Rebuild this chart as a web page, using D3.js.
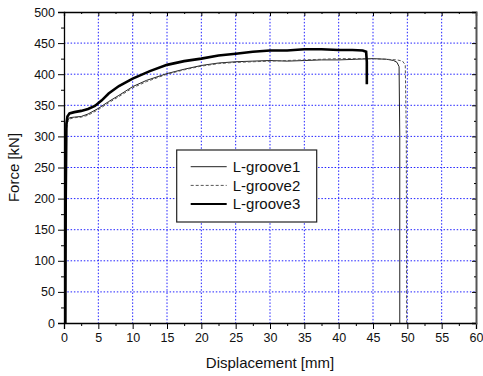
<!DOCTYPE html>
<html>
<head>
<meta charset="utf-8">
<script src="https://cdn.jsdelivr.net/npm/d3@7"></script>
<style>
  body { margin: 0; background: #fff; }
  text { font-family: "Liberation Sans", Arial, sans-serif; fill: #111; }
</style>
</head>
<body>
<div id="chart"></div>
<script>
// series: displacement [mm] and force [kN]
const disp1 = [0.15, 0.2, 0.3, 0.5, 0.8, 1.5, 2.5, 3.5, 5, 6.5, 8, 10, 12, 15, 17.5, 20, 22.5, 25, 27.5, 30, 32.5, 35, 37.5, 40, 42.5, 45, 47, 48, 48.5, 48.8, 48.9, 48.9];
const force1 = [0, 200, 310, 325, 330, 331, 332, 336, 345, 356, 366, 380, 390, 401, 408, 414, 418, 420, 421, 422, 421, 422, 423, 423, 424, 425, 424, 422, 419, 412, 300, 0];

const disp2 = [0.2, 0.25, 0.35, 0.5, 0.8, 1.5, 2.5, 3.5, 5, 6.5, 8, 10, 12, 15, 17.5, 20, 22.5, 25, 27.5, 30, 32.5, 35, 37.5, 40, 42.5, 45, 47, 48.5, 49.3, 49.7, 49.85, 49.9];
const force2 = [0, 200, 310, 322, 328, 330, 331, 334, 343, 354, 364, 378, 388, 400, 407, 413, 417, 419, 420, 421, 422, 423, 424, 425, 425, 425, 424, 423, 421, 415, 300, 0];

const disp3 = [0.2, 0.25, 0.35, 0.5, 0.8, 1.5, 2.5, 3.5, 4.5, 5.5, 6.5, 8, 10, 12.5, 15, 17.5, 20, 22.5, 25, 27.5, 30, 32.5, 35, 37.5, 40, 42, 43.5, 44, 44.1, 44.1];
const force3 = [0, 200, 320, 332, 337, 339, 341, 344, 349, 358, 369, 381, 393, 405, 415, 421, 425, 430, 433, 436, 438, 438, 440, 440, 439, 439, 438, 436, 420, 384];

const seriesNames = ["L-groove1", "L-groove2", "L-groove3"];
const xTicks = [0, 5, 10, 15, 20, 25, 30, 35, 40, 45, 50, 55, 60];
const yTicks = [0, 50, 100, 150, 200, 250, 300, 350, 400, 450, 500];

const svgWidth = 483, svgHeight = 376;
const margin = {top: 12, right: 7, bottom: 53, left: 64};
const width = svgWidth - margin.left - margin.right;
const height = svgHeight - margin.top - margin.bottom;

const svg = d3.select("#chart").append("svg")
  .attr("width", svgWidth)
  .attr("height", svgHeight);

const g = svg.append("g")
  .attr("transform", `translate(${margin.left},${margin.top})`);

const x = d3.scaleLinear().domain([0, 60]).range([0, width]);
const y = d3.scaleLinear().domain([0, 500]).range([height, 0]);

// grid
const gridStyle = sel => sel.attr("stroke", "#2222ff").attr("stroke-width", 1).attr("stroke-dasharray", "1.5,1.8");
g.append("g").selectAll("line")
  .data(xTicks.slice(1, -1)).join("line")
  .attr("x1", d => x(d)).attr("x2", d => x(d))
  .attr("y1", 0).attr("y2", height)
  .call(gridStyle);
g.append("g").selectAll("line")
  .data(yTicks.slice(1, -1)).join("line")
  .attr("x1", 0).attr("x2", width)
  .attr("y1", d => y(d)).attr("y2", d => y(d))
  .call(gridStyle);

// minor ticks
const xMinor = d3.range(2.5, 60, 5);
const yMinor = d3.range(25, 500, 50);

// bottom axis
g.append("g")
  .attr("transform", `translate(0,${height})`)
  .call(d3.axisBottom(x).tickValues(xTicks).tickSize(6).tickPadding(4));
g.append("g")
  .attr("transform", `translate(0,${height})`)
  .call(d3.axisBottom(x).tickValues(xMinor).tickSize(3).tickFormat(""))
  .select(".domain").remove();

// left axis
g.append("g")
  .call(d3.axisLeft(y).tickValues(yTicks).tickSize(6).tickPadding(3));
g.append("g")
  .call(d3.axisLeft(y).tickValues(yMinor).tickSize(3).tickFormat(""))
  .select(".domain").remove();

// top axis (inward ticks)
g.append("g")
  .call(d3.axisTop(x).tickValues(xTicks).tickSize(-4).tickFormat(""));
g.append("g")
  .call(d3.axisTop(x).tickValues(xMinor).tickSize(-2).tickFormat(""))
  .select(".domain").remove();

// right axis (inward ticks)
const right = g.append("g")
  .attr("transform", `translate(${width},0)`)
  .call(d3.axisRight(y).tickValues(yTicks).tickSize(-4).tickFormat(""));
right.select(".domain").attr("stroke", "#555").attr("stroke-width", 2);
g.append("g")
  .attr("transform", `translate(${width},0)`)
  .call(d3.axisRight(y).tickValues(yMinor).tickSize(-2).tickFormat(""))
  .select(".domain").remove();

g.selectAll(".tick text")
  .attr("font-size", 12.5)
  .attr("font-family", "Liberation Sans, Arial, sans-serif")
  .attr("fill", "#111");
g.selectAll(".domain").filter(function() { return !d3.select(this).attr("stroke-width"); })
  .attr("stroke-width", 1.3);

// lines
const line = d3.line().x(d => x(d[0])).y(d => y(d[1]));
const series = [
  {name: seriesNames[0], pts: d3.zip(disp1, force1), color: "#222", w: 1, dash: null},
  {name: seriesNames[1], pts: d3.zip(disp2, force2), color: "#555", w: 1, dash: "3,2"},
  {name: seriesNames[2], pts: d3.zip(disp3, force3), color: "#000", w: 2.6, dash: null}
];

g.selectAll(".series")
  .data(series).join("path")
  .attr("class", "series")
  .attr("d", d => line(d.pts))
  .attr("fill", "none")
  .attr("stroke", d => d.color)
  .attr("stroke-width", d => d.w)
  .attr("stroke-dasharray", d => d.dash);

// legend
const legend = g.append("g").attr("transform", `translate(${176.7 - margin.left},${150 - margin.top})`);
legend.append("rect")
  .attr("width", 140).attr("height", 72)
  .attr("fill", "#fff").attr("stroke", "#222").attr("stroke-width", 1.2);
const rows = legend.selectAll(".row").data(series).join("g")
  .attr("transform", (d, i) => `translate(0,${16.7 + i * 18.7})`);
rows.append("line")
  .attr("x1", 14).attr("x2", 50)
  .attr("stroke", d => d.color)
  .attr("stroke-width", d => d.w === 1 ? 1 : 2)
  .attr("stroke-dasharray", d => d.dash);
rows.append("text")
  .attr("x", 56).attr("dy", "0.35em")
  .attr("font-size", 15)
  .text(d => d.name);

// axis titles
svg.append("text")
  .attr("x", margin.left + width / 2).attr("y", 368)
  .attr("text-anchor", "middle")
  .attr("font-size", 15)
  .text("Displacement [mm]");

svg.append("text")
  .attr("transform", `translate(19,${margin.top + height / 2}) rotate(-90)`)
  .attr("text-anchor", "middle")
  .attr("font-size", 15)
  .text("Force [kN]");
</script>
</body>
</html>
